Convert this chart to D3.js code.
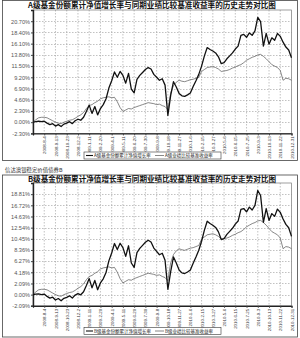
<!DOCTYPE html>
<html>
<head>
<meta charset="utf-8">
<script src="https://cdn.jsdelivr.net/npm/d3@7"></script>
<style>
  body { margin: 0; background: #fff; }
  svg { display: block; }
</style>
</head>
<body>
<div id="chart"></div>
<script>
// A/B 级基金份额累计净值增长率与业绩比较基准收益率对比 (两张图上下排列)

var xLabels = ['2008-8-4', '2008-9-13', '2008-10-23', '2008-12-2', '2009-1-11', '2009-2-20',
    '2009-4-1', '2009-5-11', '2009-6-20', '2009-7-30', '2009-9-8', '2009-10-18', '2009-11-27',
    '2010-1-6', '2010-2-15', '2010-3-27', '2010-5-6', '2010-6-15', '2010-7-25', '2010-9-3',
    '2010-10-13', '2010-11-22', '2010-12-31'];

// samples every 0.25 label step, starting one step left of the first label
var sampleStart = -1, sampleStep = 0.25;

var fundA = [0, 0.1, 0.2, 0.1, 0.2, -0.2, -0.5, -0.3, -0.8, -0.5, -0.9, -0.4, -0.2, 0.1, -0.3, 0.3,
    0.6, 0.4, 1.0, 2.2, 3.5, 1.8, 3.2, 1.5, 2.8, 3.6, 4.8, 7.0, 8.5, 10.3, 9.2, 10.4,
    9.6, 8.0, 10.0, 6.8, 6.0, 8.8, 9.6, 10.2, 10.8, 11.2, 10.9, 9.8, 9.2, 8.6, 8.9, 7.6,
    1.4, 5.5, 8.3, 7.2, 5.9, 5.4, 5.3, 5.6, 6.0, 7.3, 8.5, 9.8, 11.5, 13.6, 15.3, 14.9,
    14.6, 14.2, 13.4, 12.0, 12.2, 13.0, 13.6, 14.2, 15.0, 15.6, 17.8, 18.0, 17.4, 18.3, 17.8, 18.7,
    21.5, 20.6, 15.6, 18.2, 16.0, 17.3, 16.8, 18.2, 17.6, 16.4, 15.4, 14.8, 13.2];

var fundB = [0, 0.1, 0.15, 0.02, 0.1, -0.33, -0.65, -0.48, -1.0, -0.73, -1.15, -0.68, -0.5, -0.23, -0.65, -0.08,
    0.2, -0.03, 0.55, 1.72, 3.0, 1.27, 2.65, 0.92, 2.2, 2.97, 4.15, 6.32, 7.8, 9.57, 8.45, 9.62,
    8.8, 7.17, 9.15, 5.92, 5.1, 7.87, 8.65, 9.22, 9.8, 10.17, 9.85, 8.72, 8.1, 7.47, 7.75, 6.42,
    1.0, 4.3, 7.05, 5.92, 4.6, 4.08, 3.95, 4.23, 4.6, 5.87, 7.05, 8.32, 10.0, 12.08, 13.75, 13.32,
    13.0, 12.58, 11.75, 10.32, 10.5, 11.27, 11.85, 12.42, 13.2, 13.78, 15.95, 16.12, 15.5, 16.38, 15.85, 16.72,
    19.5, 18.57, 13.55, 16.12, 13.9, 15.17, 14.65, 16.02, 15.4, 14.17, 13.15, 12.52, 10.9];

var bench = [0, 0.5, 0.9, 1.0, 1.0, 0.9, 0.6, 0.3, 0.0, -0.2, -0.3, 0.0, 0.2, 0.4, 0.5, 0.8,
    1.2, 1.5, 2.0, 2.8, 3.4, 3.6, 4.0, 4.3, 4.8, 5.0, 5.1, 5.2, 5.0, 5.1, 4.2, 3.0,
    2.2, 2.5, 2.8, 2.7, 3.0, 3.2, 3.4, 3.6, 3.8, 4.0, 3.9, 3.8, 3.6, 3.7, 3.4, 3.2,
    2.6, 6.0, 7.5, 8.2, 8.6, 8.4, 8.3, 8.5, 8.7, 8.8, 9.0, 9.2, 10.4, 10.8, 11.2, 11.3,
    11.4, 11.2, 10.9, 10.4, 10.5, 10.6, 10.8, 11.1, 11.3, 11.6, 11.8, 12.2, 12.7, 13.0, 13.3, 13.5,
    13.8, 13.9, 13.5, 13.0, 12.4, 11.8, 11.5, 11.2, 10.6, 8.6, 9.0, 8.9, 8.6];

var yTicksA = [-2.30, 0, 2.30, 4.60, 6.90, 9.20, 11.50, 13.80, 16.10, 18.40, 20.70];
var yTicksB = [-2.09, 0, 2.09, 4.18, 6.27, 8.36, 10.45, 12.54, 14.63, 16.72, 18.81];

var width = 300, height = 338;

var svg = d3.select('#chart')
    .append('svg')
    .attr('width', width)
    .attr('height', height);

var x = d3.scaleLinear().domain([-1, 22]).range([33, 291.5]);

function drawPanel(cfg) {
    var g = svg.append('g');

    // outer frame
    g.append('rect')
        .attr('x', 2.5).attr('y', cfg.frameTop)
        .attr('width', 295).attr('height', cfg.frameBottom - cfg.frameTop)
        .attr('fill', 'none').attr('stroke', '#444').attr('stroke-width', 0.8);

    g.append('text')
        .attr('x', 152).attr('y', cfg.titleY)
        .attr('text-anchor', 'middle')
        .attr('font-family', 'Noto Sans CJK SC')
        .attr('font-size', '7.6px')
        .attr('font-weight', 'bold')
        .attr('fill', '#111')
        .text(cfg.title);

    var y = d3.scaleLinear().domain(cfg.yDomain).range([cfg.plotBottom, cfg.plotTop]);

    // grid
    g.append('g').selectAll('line')
        .data(cfg.yTicks.slice(1))
        .enter().append('line')
        .attr('x1', x(-1)).attr('x2', x(22))
        .attr('y1', function(d) { return Math.round(y(d)) + 0.5; })
        .attr('y2', function(d) { return Math.round(y(d)) + 0.5; })
        .attr('stroke', '#999').attr('stroke-width', 0.6)
        .attr('stroke-dasharray', '1.5,1.5');

    g.append('g').selectAll('line')
        .data(d3.range(0, 22))
        .enter().append('line')
        .attr('x1', function(d) { return x(d); }).attr('x2', function(d) { return x(d); })
        .attr('y1', cfg.plotTop).attr('y2', cfg.plotBottom)
        .attr('stroke', '#999').attr('stroke-width', 0.6)
        .attr('stroke-dasharray', '1.5,1.5');

    // plot border
    g.append('rect')
        .attr('x', x(-1)).attr('y', cfg.plotTop)
        .attr('width', x(22) - x(-1)).attr('height', cfg.plotBottom - cfg.plotTop)
        .attr('fill', 'none').attr('stroke', '#777').attr('stroke-width', 0.7);

    // y axis
    var yAxis = d3.axisLeft(y)
        .tickValues(cfg.yTicks)
        .tickSize(2)
        .tickFormat(function(d) { return d.toFixed(2) + '%'; });
    var ya = g.append('g')
        .attr('transform', 'translate(' + x(-1) + ',0)')
        .call(yAxis);
    ya.select('.domain').attr('stroke', '#222').attr('stroke-width', 1.4);
    ya.selectAll('.tick line').attr('stroke', '#444');
    ya.selectAll('.tick text')
        .attr('font-family', 'Liberation Sans')
        .attr('font-size', '5.6px')
        .attr('fill', '#555')
        .attr('x', -3);

    // x axis
    var xAxis = d3.axisBottom(x)
        .tickValues(d3.range(0, xLabels.length))
        .tickSize(2)
        .tickFormat(function(d) { return xLabels[d]; });
    var xa = g.append('g')
        .attr('transform', 'translate(0,' + cfg.plotBottom + ')')
        .call(xAxis);
    xa.select('.domain').attr('stroke', '#222').attr('stroke-width', 1.2);
    xa.selectAll('.tick line').attr('stroke', '#444');
    xa.selectAll('.tick text')
        .attr('font-family', 'Liberation Sans')
        .attr('font-size', '4.4px')
        .attr('fill', '#333')
        .attr('text-anchor', 'end')
        .attr('dy', '0.35em')
        .attr('transform', 'translate(0,3) rotate(-90)')
        .attr('x', 0).attr('y', 0);

    // lines
    var line = d3.line()
        .x(function(d, i) { return x(sampleStart + i * sampleStep); })
        .y(function(d) { return y(d); });

    g.append('path')
        .datum(bench)
        .attr('d', line)
        .attr('fill', 'none')
        .attr('stroke', '#555')
        .attr('stroke-width', 0.7);

    g.append('path')
        .datum(cfg.fund)
        .attr('d', line)
        .attr('fill', 'none')
        .attr('stroke', '#111')
        .attr('stroke-width', 1.3)
        .attr('stroke-linejoin', 'round');

    // legend
    var lg = g.append('g').attr('transform', 'translate(84,' + cfg.legendY + ')');
    lg.append('rect')
        .attr('x', 0).attr('y', -3.5).attr('width', 137).attr('height', 7)
        .attr('fill', '#fff').attr('stroke', '#333').attr('stroke-width', 0.6);
    lg.append('line').attr('x1', 2).attr('x2', 9).attr('y1', 0).attr('y2', 0)
        .attr('stroke', '#111').attr('stroke-width', 1.1);
    lg.append('text').attr('x', 10).attr('y', 1.6)
        .attr('font-family', 'Noto Sans CJK SC').attr('font-size', '4.5px').attr('fill', '#222')
        .text(cfg.legend[0]);
    lg.append('line').attr('x1', 71).attr('x2', 80).attr('y1', 0).attr('y2', 0)
        .attr('stroke', '#555').attr('stroke-width', 0.7);
    lg.append('text').attr('x', 81).attr('y', 1.6)
        .attr('font-family', 'Noto Sans CJK SC').attr('font-size', '4.5px').attr('fill', '#222')
        .text(cfg.legend[1]);
}

drawPanel({
    frameTop: 0.5, frameBottom: 160.5, titleY: 8,
    title: 'A级基金份额累计净值增长率与同期业绩比较基准收益率的历史走势对比图',
    yDomain: [-2.3, 23.0], yTicks: yTicksA, plotTop: 10, plotBottom: 133.4,
    fund: fundA, legendY: 155.5,
    legend: ['A级基金份额累计净值增长率', 'A级业绩比较基准收益率']
});

svg.append('text')
    .attr('x', 5).attr('y', 172)
    .attr('font-family', 'Noto Sans CJK SC')
    .attr('font-size', '5.4px')
    .attr('fill', '#333')
    .text('信达澳银稳定价值债券B');

drawPanel({
    frameTop: 175, frameBottom: 337, titleY: 182,
    title: 'B级基金份额累计净值增长率与同期业绩比较基准收益率的历史走势对比图',
    yDomain: [-2.09, 20.9], yTicks: yTicksB, plotTop: 183, plotBottom: 305.8,
    fund: fundB, legendY: 331,
    legend: ['B级基金份额累计净值增长率', 'B级业绩比较基准收益率']
});
</script>
</body>
</html>
